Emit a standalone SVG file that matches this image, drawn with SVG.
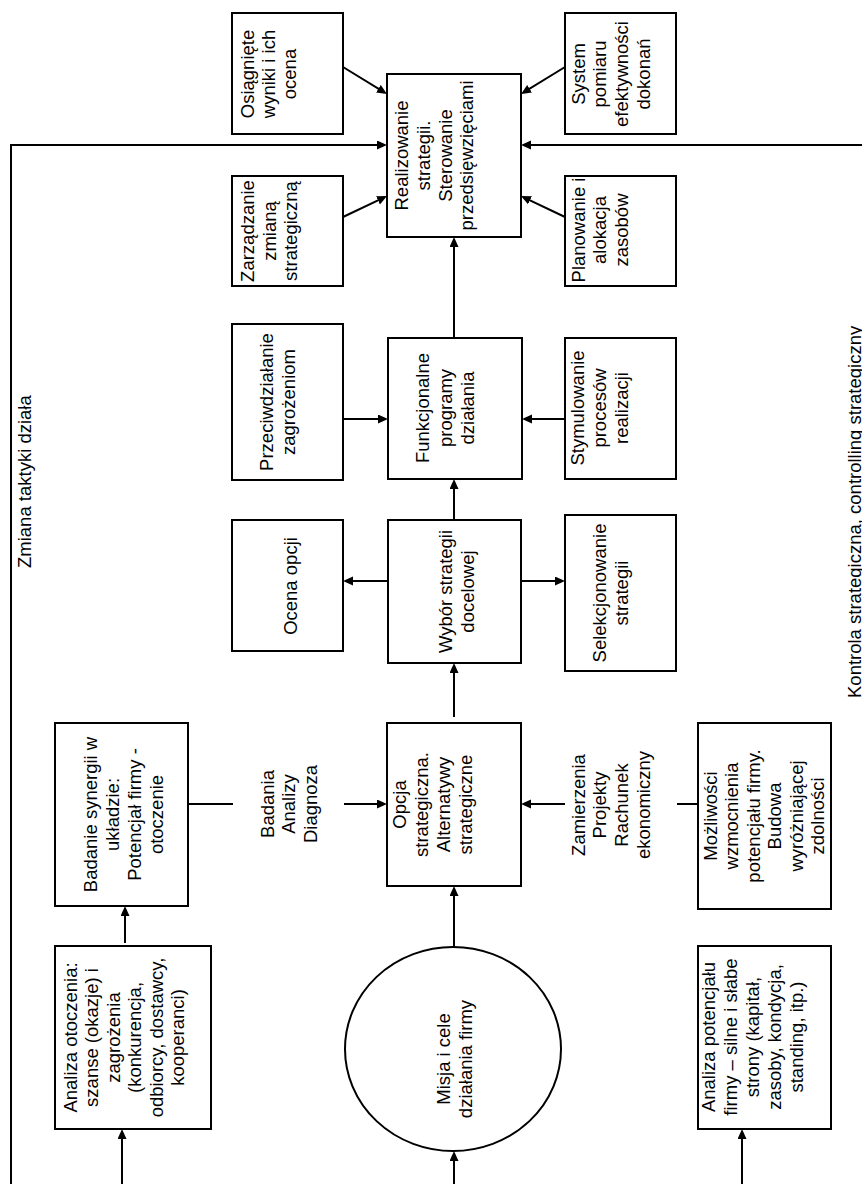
<svg xmlns="http://www.w3.org/2000/svg" width="862" height="1184" viewBox="0 0 862 1184">
  <defs>
    <marker id="arr" markerWidth="10" markerHeight="10" refX="7" refY="4.5" orient="auto" markerUnits="userSpaceOnUse">
      <path d="M0,0 L10,4.5 L0,9 z" fill="#000"/>
    </marker>
    <style>
      .box { fill: #fff; stroke: #000; stroke-width: 2; }
      .ln { fill: none; stroke: #000; stroke-width: 2; }
      .ar { fill: none; stroke: #000; stroke-width: 2; marker-end: url(#arr); }
      text { font-family: "Liberation Sans", Arial, sans-serif; font-size: 18.5px; fill: #000; }
      .c { text-anchor: middle; }
    </style>
  </defs>
  <rect width="862" height="1184" fill="#fff"/>

  <!-- connectors -->
  <g id="connectors">
    <!-- feedback loop: tactics change -->
    <polyline class="ar" points="11,1184 11,145 384,145"/>
    <!-- strategic control feedback -->
    <line class="ar" x1="862" y1="145" x2="524" y2="145"/>
    <!-- into Realizowanie -->
    <line class="ar" x1="343" y1="67" x2="384.4" y2="92.4"/>
    <line class="ar" x1="343" y1="217" x2="384.3" y2="197.3"/>
    <line class="ar" x1="565" y1="67" x2="523.6" y2="92.4"/>
    <line class="ar" x1="565" y1="217" x2="523.7" y2="197.3"/>
    <line class="ar" x1="454" y1="338" x2="454" y2="240"/>
    <!-- into Funkcjonalne -->
    <line class="ar" x1="343" y1="419" x2="385" y2="419"/>
    <line class="ar" x1="565" y1="419" x2="525" y2="419"/>
    <line class="ar" x1="454" y1="519" x2="454" y2="482"/>
    <!-- out of Wybór -->
    <line class="ar" x1="388" y1="581" x2="346" y2="581"/>
    <line class="ar" x1="521" y1="581" x2="562" y2="581"/>
    <line class="ar" x1="454" y1="717" x2="454" y2="666"/>
    <!-- into Opcja -->
    <line class="ln" x1="188" y1="804" x2="233" y2="804"/>
    <line class="ar" x1="344" y1="804" x2="384" y2="804"/>
    <line class="ln" x1="698" y1="804" x2="677" y2="804"/>
    <line class="ar" x1="565" y1="804" x2="524" y2="804"/>
    <line class="ar" x1="454" y1="947" x2="454" y2="889"/>
    <!-- lower column -->
    <line class="ar" x1="125" y1="943" x2="125" y2="909"/>
    <line class="ar" x1="122" y1="1184" x2="122" y2="1132"/>
    <line class="ar" x1="454" y1="1184" x2="454" y2="1154"/>
    <line class="ar" x1="742" y1="1184" x2="742" y2="1132"/>
  </g>

  <!-- free labels -->
  <g id="label-zmiana">
    <text transform="translate(0,568) rotate(-90)"><tspan x="0" y="31">Zmiana taktyki działa</tspan></text>
  </g>
  <g id="label-kontrola">
    <text transform="translate(0,698) rotate(-90)"><tspan x="0" y="861">Kontrola strategiczna, controlling strategiczny</tspan></text>
  </g>
  <g id="label-badania">
    <text class="c" transform="translate(0,804) rotate(-90)"><tspan x="0" y="274">Badania</tspan><tspan x="0" y="295">Analizy</tspan><tspan x="0" y="317">Diagnoza</tspan></text>
  </g>
  <g id="label-zamierzenia">
    <text class="c" transform="translate(0,805) rotate(-90)"><tspan x="0" y="585">Zamierzenia</tspan><tspan x="0" y="606">Projekty</tspan><tspan x="0" y="628">Rachunek</tspan><tspan x="0" y="650">ekonomiczny</tspan></text>
  </g>

  <!-- nodes -->
  <g id="node-realizowanie">
    <rect class="box" x="387" y="74" width="134" height="163"/>
    <text class="c" transform="translate(0,155.5) rotate(-90)"><tspan x="0" y="408">Realizowanie</tspan><tspan x="0" y="430">strategii.</tspan><tspan x="0" y="452">Sterowanie</tspan><tspan x="0" y="473">przedsięwzięciami</tspan></text>
  </g>
  <g id="node-osiagniete">
    <rect class="box" x="232" y="13" width="111" height="121"/>
    <text class="c" transform="translate(0,74) rotate(-90)"><tspan x="0" y="254">Osiągnięte</tspan><tspan x="0" y="275">wyniki i ich</tspan><tspan x="0" y="296">ocena</tspan></text>
  </g>
  <g id="node-zarzadzanie">
    <rect class="box" x="232" y="176" width="111" height="110"/>
    <text class="c" transform="translate(0,231) rotate(-90)"><tspan x="0" y="254">Zarządzanie</tspan><tspan x="0" y="276">zmianą</tspan><tspan x="0" y="297">strategiczną</tspan></text>
  </g>
  <g id="node-system">
    <rect class="box" x="565" y="13" width="111" height="121"/>
    <text class="c" transform="translate(0,74) rotate(-90)"><tspan x="0" y="585">System</tspan><tspan x="0" y="606">pomiaru</tspan><tspan x="0" y="628">efektywności</tspan><tspan x="0" y="650">dokonań</tspan></text>
  </g>
  <g id="node-planowanie">
    <rect class="box" x="565" y="176" width="111" height="110"/>
    <text class="c" transform="translate(0,230) rotate(-90)"><tspan x="0" y="585">Planowanie i</tspan><tspan x="0" y="606">alokacja</tspan><tspan x="0" y="628">zasobów</tspan></text>
  </g>
  <g id="node-funkcjonalne">
    <rect class="box" x="388" y="338" width="134" height="141"/>
    <text class="c" transform="translate(0,408) rotate(-90)"><tspan x="0" y="429">Funkcjonalne</tspan><tspan x="0" y="452">programy</tspan><tspan x="0" y="474">działania</tspan></text>
  </g>
  <g id="node-przeciwdzialanie">
    <rect class="box" x="232" y="324" width="111" height="156"/>
    <text class="c" transform="translate(0,402) rotate(-90)"><tspan x="0" y="273">Przeciwdziałanie</tspan><tspan x="0" y="295">zagrożeniom</tspan></text>
  </g>
  <g id="node-stymulowanie">
    <rect class="box" x="565" y="338" width="111" height="141"/>
    <text class="c" transform="translate(0,408) rotate(-90)"><tspan x="0" y="584">Stymulowanie</tspan><tspan x="0" y="606">procesów</tspan><tspan x="0" y="628">realizacji</tspan></text>
  </g>
  <g id="node-wybor">
    <rect class="box" x="388" y="520" width="133" height="143"/>
    <text class="c" transform="translate(0,591.5) rotate(-90)"><tspan x="0" y="452">Wybór strategii</tspan><tspan x="0" y="474">docelowej</tspan></text>
  </g>
  <g id="node-ocena">
    <rect class="box" x="232" y="520" width="111" height="131"/>
    <text class="c" transform="translate(0,586) rotate(-90)"><tspan x="0" y="297">Ocena opcji</tspan></text>
  </g>
  <g id="node-selekcjonowanie">
    <rect class="box" x="565" y="515" width="111" height="156"/>
    <text class="c" transform="translate(0,593) rotate(-90)"><tspan x="0" y="606">Selekcjonowanie</tspan><tspan x="0" y="628">strategii</tspan></text>
  </g>
  <g id="node-opcja">
    <rect class="box" x="387" y="723" width="134" height="163"/>
    <text class="c" transform="translate(0,804.5) rotate(-90)"><tspan x="0" y="406">Opcja</tspan><tspan x="0" y="428">strategiczna.</tspan><tspan x="0" y="450">Alternatywy</tspan><tspan x="0" y="472">strategiczne</tspan></text>
  </g>
  <g id="node-synergia">
    <rect class="box" x="55" y="723" width="133" height="183"/>
    <text class="c" transform="translate(0,814.5) rotate(-90)"><tspan x="0" y="97">Badanie synergii w</tspan><tspan x="0" y="119">układzie:</tspan><tspan x="0" y="141">Potencjał firmy -</tspan><tspan x="0" y="163">otoczenie</tspan></text>
  </g>
  <g id="node-mozliwosci">
    <rect class="box" x="698" y="723" width="133" height="186"/>
    <text class="c" transform="translate(0,816) rotate(-90)"><tspan x="0" y="717">Możliwości</tspan><tspan x="0" y="738">wzmocnienia</tspan><tspan x="0" y="760">potencjału firmy.</tspan><tspan x="0" y="781">Budowa</tspan><tspan x="0" y="803">wyróżniającej</tspan><tspan x="0" y="824">zdolności</tspan></text>
  </g>
  <g id="node-analiza-otoczenia">
    <rect class="box" x="55" y="946" width="156" height="183"/>
    <text class="c" transform="translate(0,1037.5) rotate(-90)"><tspan x="0" y="77">Analiza otoczenia:</tspan><tspan x="0" y="98">szanse (okazje) i</tspan><tspan x="0" y="120">zagrożenia</tspan><tspan x="0" y="141">(konkurencja,</tspan><tspan x="0" y="163">odbiorcy, dostawcy,</tspan><tspan x="0" y="184">kooperanci)</tspan></text>
  </g>
  <g id="node-misja">
    <ellipse class="box" cx="453" cy="1049" rx="108" ry="102"/>
    <text class="c" transform="translate(0,1059) rotate(-90)"><tspan x="0" y="450">Misja i cele</tspan><tspan x="0" y="472">działania firmy</tspan></text>
  </g>
  <g id="node-analiza-potencjalu">
    <rect class="box" x="698" y="946" width="133" height="183"/>
    <text class="c" transform="translate(0,1037) rotate(-90)"><tspan x="0" y="715">Analiza potencjału</tspan><tspan x="0" y="737">firmy – silne i słabe</tspan><tspan x="0" y="759">strony (kapitał,</tspan><tspan x="0" y="781">zasoby, kondycja,</tspan><tspan x="0" y="803">standing, itp.)</tspan></text>
  </g>
</svg>
